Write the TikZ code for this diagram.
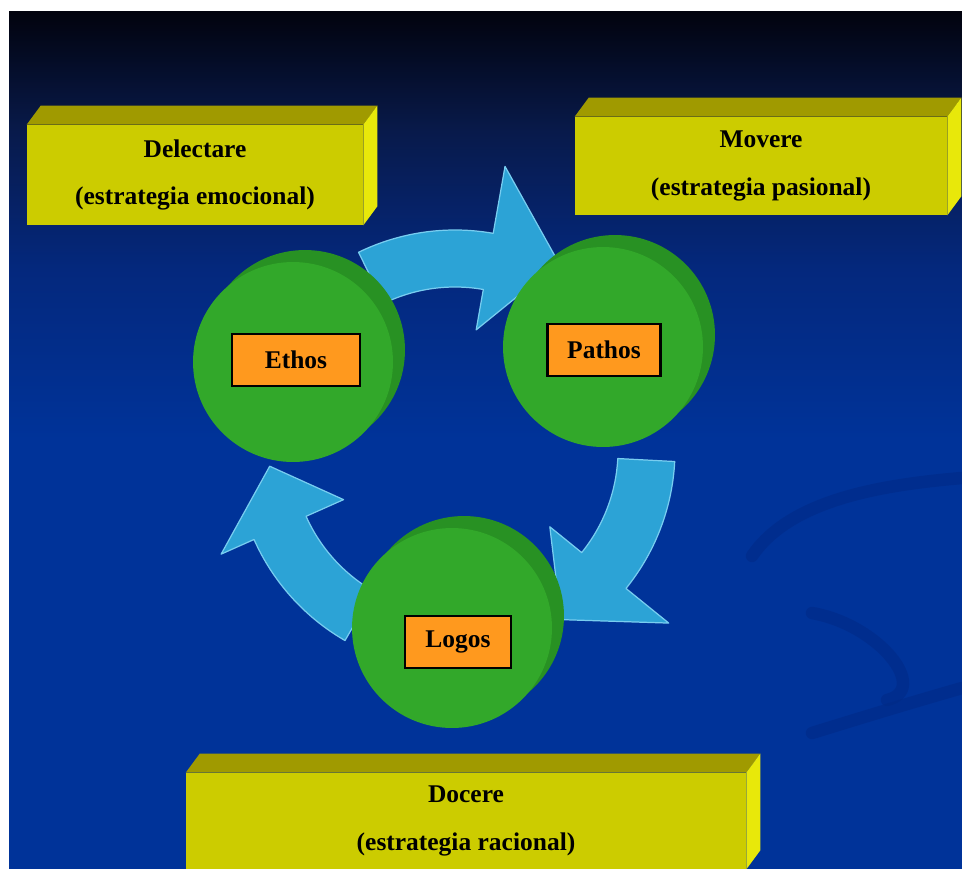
\documentclass[tikz,border=0pt]{standalone}
\usepackage{fontspec}
\setmainfont{Liberation Serif}
\usetikzlibrary{positioning, shadows, calc}

\definecolor{bgblue}{RGB}{0,51,153}
\definecolor{bgdeep}{RGB}{4,40,125}
\definecolor{bgmid}{RGB}{8,26,75}
\definecolor{bgtop}{RGB}{2,3,14}
\definecolor{bgswirl}{RGB}{0,42,135}
\definecolor{slabfront}{RGB}{204,204,0}
\definecolor{slabtopc}{RGB}{160,154,0}
\definecolor{slabsidec}{RGB}{232,232,10}
\definecolor{discfront}{RGB}{50,168,42}
\definecolor{discback}{RGB}{40,145,35}
\definecolor{tagfill}{RGB}{255,153,30}
\definecolor{arrowfill}{RGB}{44,163,214}
\definecolor{arrowline}{RGB}{120,205,240}

\pgfdeclareverticalshading{slidebg}{100bp}{color(0bp)=(bgblue); color(50bp)=(bgblue); color(60bp)=(bgdeep); color(68bp)=(bgmid); color(75bp)=(bgtop); color(100bp)=(bgtop)}

\tikzset{
  slab/.style={
    rectangle,
    fill=slabfront,
    inner sep=0pt,
    align=center,
    font=\bfseries\fontsize{14.5}{27}\selectfont
  },
  slabtop/.style={fill=slabtopc},
  slabside/.style={fill=slabsidec},
  disc/.style={
    circle,
    fill=discfront,
    minimum size=4cm,
    inner sep=0pt,
    general shadow={fill=discback, shadow xshift=0.24cm, shadow yshift=0.24cm}
  },
  tag/.style={
    rectangle,
    fill=tagfill,
    draw=black,
    line width=1.2pt,
    minimum height=1.04cm,
    font=\bfseries\fontsize{14.5}{17}\selectfont
  },
  cyclearrow/.style={
    fill=arrowfill,
    draw=arrowline,
    line width=0.7pt,
    line join=round
  },
  swirl/.style={
    draw=bgswirl,
    line width=0.25cm,
    line cap=round,
    opacity=0.6
  }
}

% 3d faces of a slab
\newcommand*\slabfaces[1]{%
  \fill[slabtop] (#1.north west) -- ++(14,19) -- ([shift={(14,19)}]#1.north east) -- (#1.north east) -- cycle;
  \fill[slabside] (#1.north east) -- ++(14,19) -- ([shift={(14,19)}]#1.south east) -- (#1.south east) -- cycle;}

% curved block arrow round the hub: start angle, barb radius, tip radius
\newcommand*\bendarrow[3]{%
  \draw[cyclearrow, shift={(hub)}] (#1:220) arc[start angle=#1, end angle=#1-36, radius=220]
    -- ({#1-36}:#2) -- ({#1-55}:#3) -- ({#1-36}:122) -- ({#1-36}:163)
    arc[start angle=#1-36, end angle=#1, radius=163] -- cycle;}

\begin{document}
\begin{tikzpicture}[x=0.02cm, y=0.02cm]
\clip (0,0) rectangle (962,-868);

% background
\shade[shading=slidebg] (9,-12) rectangle (962,-868);
\draw[swirl] (752,-556) .. controls (790,-500) and (880,-485) .. (962,-478);
\draw[swirl] (812,-613) .. controls (880,-625) and (930,-690) .. (887,-700);
\draw[swirl] (812,-733) .. controls (870,-715) and (920,-700) .. (962,-688);

% arrows
\coordinate (hub) at (455,-450);
\bendarrow{116}{288}{214}
\bendarrow{-3}{275}{200}
\bendarrow{240}{256}{186}

% discs
\node[disc] (ethos) at (293,-362) {};
\node[disc] (pathos) at (603,-347) {};
\node[disc] (logos) at (452,-628) {};

\node[tag, minimum width=2.56cm] (ethostag) at ([shift={(3,2)}]ethos.center) {Ethos};
\node[tag, minimum width=2.26cm] (pathostag) at ([shift={(1,-3)}]pathos.center) {Pathos};
\node[tag, minimum width=2.12cm] (logostag) at ([shift={(6,-14)}]logos.center) {Logos};

% slabs
\node[slab, minimum width=6.72cm, minimum height=2cm] (delectare) at (195,-175)
  {Delectare\\(estrategia emocional)};
\slabfaces{delectare}

\node[slab, minimum width=7.44cm, minimum height=1.96cm] (movere) at (761,-166)
  {Movere\\(estrategia pasional)};
\slabfaces{movere}

\node[slab, minimum width=11.2cm, minimum height=1.92cm] (docere) at (466,-821)
  {Docere\\(estrategia racional)};
\slabfaces{docere}

\end{tikzpicture}
\end{document}
